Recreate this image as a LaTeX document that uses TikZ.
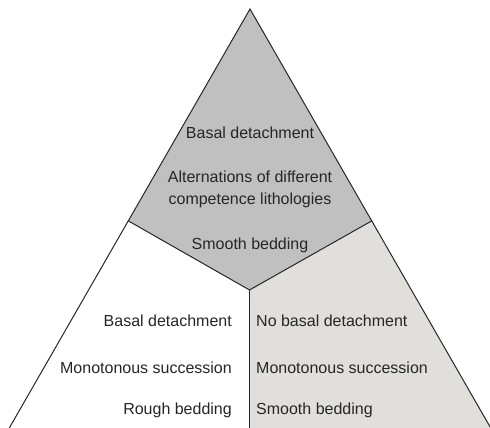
\documentclass[tikz,border=0pt]{standalone}
\usepackage{fontspec}
\setmainfont{Liberation Sans}
\definecolor{topgray}{RGB}{192,192,192}
\definecolor{rightgray}{RGB}{224,223,219}

\begin{document}
\begin{tikzpicture}[x=1pt, y=-1pt,
  lbl/.style={font=\fontsize{16}{22}\selectfont, inner sep=0pt, text=black!85},
  edge/.style={line width=1pt, black!85}]

\clip (0,0) rectangle (490,428);

% ---------- outline ----------
\coordinate (apex) at (250,9);
\coordinate (lb) at (7,432);
\coordinate (rb) at (493,432);
\coordinate (lm) at (128.5,221);
\coordinate (rm) at (371.5,221);
\coordinate (mid) at (249.5,290);
\coordinate (bm) at (249.5,432);

\fill[topgray] (apex) -- (rm) -- (mid) -- (lm) -- cycle;
\fill[rightgray] (mid) -- (rm) -- (rb) -- (bm) -- cycle;
\draw[edge] (lb) -- (apex) -- (rb);
\draw[edge] (lm) -- (mid) -- (rm);
\draw[edge] (mid) -- (bm);

% ---------- top ----------
\node[lbl, anchor=base] (t1) at (250,138) {Basal detachment};
\node[lbl, anchor=base] (t2) at (250,182) {Alternations of different};
\node[lbl, anchor=base] (t3) at (250,204) {competence lithologies};
\node[lbl, anchor=base] (t4) at (250,249) {Smooth bedding};

% ---------- left ----------
\node[lbl, anchor=base east] (l1) at (232,326) {Basal detachment};
\node[lbl, anchor=base east] (l2) at (232,373) {Monotonous succession};
\node[lbl, anchor=base east] (l3) at (232,414) {Rough bedding};

% ---------- right ----------
\node[lbl, anchor=base west] (r1) at (256,326) {No basal detachment};
\node[lbl, anchor=base west] (r2) at (256,373) {Monotonous succession};
\node[lbl, anchor=base west] (r3) at (256,414) {Smooth bedding};

\end{tikzpicture}
\end{document}
